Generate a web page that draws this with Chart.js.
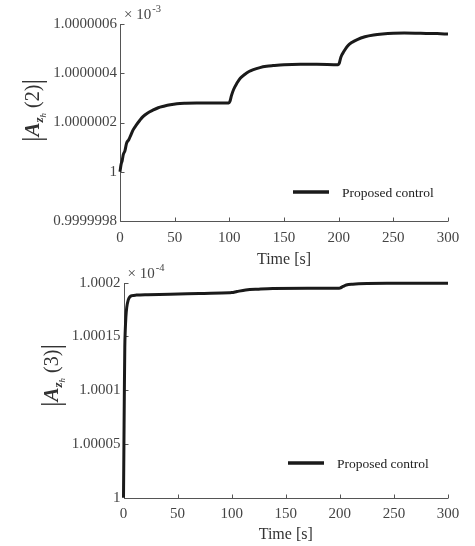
<!DOCTYPE html>
<html>
<head>
<meta charset="utf-8">
<script src="https://cdn.jsdelivr.net/npm/chart.js@4.4.0/dist/chart.umd.min.js"></script>
<style>
  body { margin: 0; background: #fff; }
  #contenedor { position: relative; width: 475px; height: 546px; }
  canvas { position: absolute; left: 0; }
</style>
</head>
<body>
<div id="contenedor">
  <canvas id="grafica1" width="475" height="272" style="top:0"></canvas>
  <canvas id="grafica2" width="475" height="286" style="top:260px"></canvas>
</div>
<script>
// Datos: |A_zh(2)| y |A_zh(3)| frente al tiempo
const tiempo1 = [0, 1, 2, 3, 4.5, 6, 8, 10, 12, 15, 18, 21, 25, 30, 35, 40, 46, 52, 60, 70,
  80, 90, 99.5, 100.5, 102, 104, 107, 110, 114, 118, 122, 128, 134, 140, 150, 165, 180, 199.5,
  200.5, 202, 205, 208, 212, 217, 224, 232, 240, 250, 260, 275, 290, 300];
const amplitud2 = [1.0, 1.00000003, 1.000000045, 1.00000007, 1.000000085, 1.000000116, 1.00000013,
  1.00000015, 1.00000017, 1.00000019, 1.000000208, 1.000000224, 1.000000238, 1.00000025,
  1.00000026, 1.000000266, 1.000000272, 1.000000276, 1.000000278, 1.000000279, 1.000000279,
  1.000000279, 1.000000279, 1.000000285, 1.00000031, 1.000000335, 1.00000036, 1.00000038,
  1.000000395, 1.000000407, 1.000000415, 1.000000423, 1.000000428, 1.000000431, 1.000000435,
  1.000000437, 1.000000437, 1.000000435, 1.00000044, 1.000000465, 1.00000049, 1.00000051,
  1.000000525, 1.000000537, 1.000000548, 1.000000555, 1.000000559, 1.000000562, 1.000000563,
  1.000000562, 1.000000561, 1.000000559];

const tiempo2 = [0, 0.4, 0.8, 1.2, 1.6, 2.2, 3, 4.4, 6, 8, 12, 20, 43, 70, 98, 100, 105, 113, 125,
  138, 170, 198, 200, 203, 206, 212, 225, 250, 275, 300];
const amplitud3 = [1.0, 1.00005, 1.0001, 1.00014, 1.000155, 1.000168, 1.000177, 1.000184, 1.000187,
  1.000188, 1.0001885, 1.0001889, 1.0001892, 1.00019, 1.0001907, 1.0001908, 1.0001918, 1.0001932,
  1.000194, 1.0001946, 1.0001948, 1.0001948, 1.000195, 1.0001965, 1.0001978, 1.0001986,
  1.0001992, 1.0001994, 1.0001995, 1.0001995];

// Marcas de los ejes
const ticksTiempo = [0, 50, 100, 150, 200, 250, 300];
const ticksY1 = [0.9999998, 1, 1.0000002, 1.0000004, 1.0000006];
const etiquetasY1 = ['0.9999998', '1', '1.0000002', '1.0000004', '1.0000006'];
const ticksY2 = [1, 1.00005, 1.0001, 1.00015, 1.0002];
const etiquetasY2 = ['1', '1.00005', '1.0001', '1.00015', '1.0002'];

const nombreSerie = 'Proposed control';
const tituloX = 'Time [s]';

const SERIF = '"Liberation Serif", "Times New Roman", serif';
const GRIS = '#444';

// Ejes tipo MATLAB: solo izquierda y abajo, marcas hacia dentro
const ejesPlugin = {
  id: 'ejes',
  beforeDatasetsDraw(chart) {
    const { ctx, chartArea: a, scales: { x, y } } = chart;
    ctx.save();
    ctx.strokeStyle = '#555';
    ctx.lineWidth = 1;
    ctx.beginPath();
    const xl = Math.round(a.left) + 0.5;
    const yb = Math.round(a.bottom) + 0.5;
    ctx.moveTo(xl, Math.round(a.top));
    ctx.lineTo(xl, yb);
    ctx.lineTo(Math.round(a.right), yb);
    x.ticks.forEach(t => {
      const px = Math.round(x.getPixelForValue(t.value)) + 0.5;
      ctx.moveTo(px, yb);
      ctx.lineTo(px, yb - 4);
    });
    y.ticks.forEach(t => {
      const py = Math.round(y.getPixelForValue(t.value)) + 0.5;
      ctx.moveTo(xl, py);
      ctx.lineTo(xl + 4, py);
    });
    ctx.stroke();
    ctx.restore();
  },
  afterDraw(chart, args, opts) {
    const { ctx, chartArea: a } = chart;
    ctx.save();
    ctx.fillStyle = GRIS;
    // multiplicador "× 10^n"
    ctx.textBaseline = 'alphabetic';
    ctx.font = '15px ' + SERIF;
    ctx.fillText('\u00d7 10', a.left + 4, a.top - 5);
    const w = ctx.measureText('\u00d7 10').width;
    ctx.font = '10.5px ' + SERIF;
    ctx.fillText(opts.exponente, a.left + 4 + w + 1, a.top - 12);

    // leyenda
    ctx.strokeStyle = '#1a1a1a';
    ctx.lineWidth = 3.5;
    ctx.beginPath();
    ctx.moveTo(opts.leyendaX, opts.leyendaY);
    ctx.lineTo(opts.leyendaX + 36, opts.leyendaY);
    ctx.stroke();
    ctx.fillStyle = '#222';
    ctx.font = '13.5px ' + SERIF;
    ctx.textBaseline = 'middle';
    ctx.fillText(nombreSerie, opts.leyendaX + 49, opts.leyendaY + 1);

    // etiqueta del eje Y: |A_{z_h}(n)|
    ctx.translate(opts.etiquetaX, opts.etiquetaY);
    ctx.rotate(-Math.PI / 2);
    ctx.fillStyle = '#333';
    ctx.textBaseline = 'alphabetic';
    const partes = [
      { t: '|', f: '28px ' + SERIF, dy: 2 },
      { t: 'A', f: 'italic bold 21px ' + SERIF, dy: 0 },
      { t: 'z', f: 'italic bold 13px ' + SERIF, dy: 4 },
      { t: 'h', f: 'italic 9px ' + SERIF, dy: 7 },
      { t: ' (' + opts.indice + ')', f: '20px ' + SERIF, dy: 0 },
      { t: '|', f: '28px ' + SERIF, dy: 2 }
    ];
    let total = 0;
    partes.forEach(p => { ctx.font = p.f; p.w = ctx.measureText(p.t).width; total += p.w; });
    let px = -total / 2;
    partes.forEach(p => {
      ctx.font = p.f;
      ctx.fillText(p.t, px, 9 + p.dy);
      px += p.w;
    });
    ctx.restore();
  }
};

function crearGrafica(id, tiempos, valores, cfg) {
  const ctx = document.getElementById(id).getContext('2d');
  return new Chart(ctx, {
    type: 'line',
    data: {
      datasets: [{
        label: nombreSerie,
        data: tiempos.map((t, i) => ({ x: t, y: valores[i] })),
        borderColor: '#1a1a1a',
        borderWidth: 3,
        pointRadius: 0,
        cubicInterpolationMode: 'monotone',
        clip: false
      }]
    },
    options: {
      responsive: false,
      animation: false,
      devicePixelRatio: 1,
      layout: { padding: { top: cfg.arriba, right: 27, left: 0, bottom: 0 } },
      plugins: {
        legend: { display: false },
        tooltip: { enabled: false },
        ejes: cfg.plugin
      },
      scales: {
        x: {
          type: 'linear',
          min: 0,
          max: 300,
          grid: { display: false, drawTicks: false },
          border: { display: false },
          afterBuildTicks: s => { s.ticks = ticksTiempo.map(v => ({ value: v })); },
          afterFit: s => { s.height = cfg.altoX; },
          ticks: {
            padding: cfg.padX,
            color: GRIS,
            font: { family: SERIF, size: 15 },
            maxRotation: 0,
            callback: v => String(v)
          },
          title: {
            display: true,
            text: tituloX,
            color: '#333',
            font: { family: SERIF, size: 16, lineHeight: 1 },
            padding: { top: 0, bottom: cfg.padTitulo }
          }
        },
        y: {
          type: 'linear',
          min: cfg.ticksY[0],
          max: cfg.ticksY[cfg.ticksY.length - 1],
          grid: { display: false, drawTicks: false },
          border: { display: false },
          afterBuildTicks: s => { s.ticks = cfg.ticksY.map(v => ({ value: v })); },
          afterFit: s => { s.width = cfg.anchoY; },
          ticks: {
            padding: 3,
            color: GRIS,
            font: { family: SERIF, size: 15 },
            callback: (v, i) => cfg.etiquetasY[i]
          }
        }
      }
    },
    plugins: [ejesPlugin]
  });
}

crearGrafica('grafica1', tiempo1, amplitud2, {
  arriba: 24, altoX: 51, anchoY: 120, padX: 8, padTitulo: 4,
  ticksY: ticksY1, etiquetasY: etiquetasY1,
  plugin: { exponente: '-3', leyendaX: 293, leyendaY: 192, etiquetaX: 30, etiquetaY: 110.5, indice: '2' }
});

crearGrafica('grafica2', tiempo2, amplitud3, {
  arriba: 22.7, altoX: 48.3, anchoY: 123.5, padX: 7, padTitulo: 3,
  ticksY: ticksY2, etiquetasY: etiquetasY2,
  plugin: { exponente: '-4', leyendaX: 288, leyendaY: 203, etiquetaX: 49, etiquetaY: 115.5, indice: '3' }
});
</script>
</body>
</html>
